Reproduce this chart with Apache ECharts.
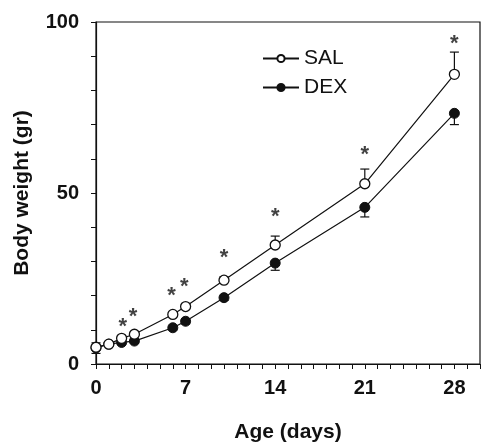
<!DOCTYPE html>
<html>
<head>
<meta charset="utf-8">
<script src="https://cdn.jsdelivr.net/npm/echarts@6/dist/echarts.min.js"></script>
<style>html,body{margin:0;padding:0;background:#fff}#c{width:483px;height:448px}</style>
</head>
<body>
<div id="c"></div>
<script>
// Age (days)
const days = [0, 1, 2, 3, 6, 7, 10, 14, 21, 28];
// Mean body weight (gr)
const salMean = [4.9, 5.8, 7.5, 8.7, 14.5, 16.8, 24.5, 34.8, 52.7, 84.7];
const dexMean = [4.7, 5.8, 6.3, 6.7, 10.6, 12.5, 19.4, 29.5, 45.8, 73.3];
// Error (SEM), SAL drawn upward, DEX downward
const salErr = [1.3, 0.5, 0.6, 0.6, 0.7, 0.8, 1.0, 2.6, 4.3, 6.5];
const dexErr = [1.6, 0.5, 0.5, 0.6, 0.6, 0.8, 0.8, 2.1, 2.8, 3.3];
// Significance asterisks: [day, height]
const starDays = [2.1, 2.9, 5.9, 6.9, 10, 14, 21, 28];
const starHeights = [12.3, 15.1, 21.4, 24.0, 32.4, 44.6, 62.6, 95.0];
// Tick labels
const xLabelDays = [0, 7, 14, 21, 28];
const yLabelValues = [0, 50, 100];

const FONT = 'Liberation Sans, Arial, Helvetica, sans-serif';
const INK = '#111';

function errRender(dir) {
  return function (params, api) {
    const x = api.value(0), y = api.value(1), e = api.value(2);
    const p0 = api.coord([x, y]);
    const p1 = api.coord([x, y + dir * e]);
    const hw = 4.5;
    return {
      type: 'group',
      children: [
        { type: 'line', shape: { x1: p0[0], y1: p0[1], x2: p1[0], y2: p1[1] }, style: { stroke: INK, lineWidth: 1.2 } },
        { type: 'line', shape: { x1: p1[0] - hw, y1: p1[1], x2: p1[0] + hw, y2: p1[1] }, style: { stroke: INK, lineWidth: 1.2 } }
      ]
    };
  };
}

const chart = echarts.init(document.getElementById('c'));
chart.setOption({
  animation: false,
  backgroundColor: '#fff',
  grid: { left: 96, top: 22, right: 1, bottom: 79, show: true, borderColor: INK, borderWidth: 1.2, backgroundColor: 'transparent' },
  legend: {
    data: ['SAL', 'DEX'],
    orient: 'vertical',
    left: 257, top: 43,
    itemWidth: 36, itemHeight: 9, itemGap: 8,
    textStyle: { fontFamily: FONT, fontSize: 21, color: INK }
  },
  xAxis: {
    type: 'value', min: 0, max: 30, interval: 1,
    name: 'Age (days)', nameLocation: 'middle', nameGap: 58,
    nameTextStyle: { fontFamily: FONT, fontSize: 21, fontWeight: 'bold', color: INK },
    axisLine: { show: true, lineStyle: { color: INK, width: 1.2 } },
    axisTick: { show: true, inside: false, length: 5, lineStyle: { color: INK } },
    splitLine: { show: false },
    axisLabel: {
      margin: 14, fontFamily: FONT, fontSize: 20, fontWeight: 'bold', color: INK,
      formatter: v => (xLabelDays.indexOf(v) >= 0 ? String(v) : '')
    }
  },
  yAxis: {
    type: 'value', min: 0, max: 100, interval: 10,
    name: 'Body weight (gr)', nameLocation: 'middle', nameGap: 63,
    nameTextStyle: { fontFamily: FONT, fontSize: 21, fontWeight: 'bold', color: INK },
    axisLine: { show: true, lineStyle: { color: INK, width: 1.2 } },
    axisTick: { show: true, inside: false, length: 5, lineStyle: { color: INK } },
    splitLine: { show: false },
    axisLabel: {
      margin: 17, fontFamily: FONT, fontSize: 20, fontWeight: 'bold', color: INK,
      formatter: v => (yLabelValues.indexOf(v) >= 0 ? String(v) : '')
    }
  },
  series: [
    {
      type: 'custom', name: 'salErr', z: 1, renderItem: errRender(1),
      data: days.map((d, i) => [d, salMean[i], salErr[i]])
    },
    {
      type: 'custom', name: 'dexErr', z: 1, renderItem: errRender(-1),
      data: days.map((d, i) => [d, dexMean[i], dexErr[i]])
    },
    {
      name: 'DEX', type: 'line', z: 3,
      data: days.map((d, i) => [d, dexMean[i]]),
      symbol: 'circle', symbolSize: 10, showSymbol: true,
      lineStyle: { color: INK, width: 1.2 },
      itemStyle: { color: INK, borderColor: INK, borderWidth: 1 }
    },
    {
      name: 'SAL', type: 'line', z: 4,
      data: days.map((d, i) => [d, salMean[i]]),
      symbol: 'circle', symbolSize: 10, showSymbol: true,
      lineStyle: { color: INK, width: 1.2 },
      itemStyle: { color: '#fff', borderColor: INK, borderWidth: 1.3 }
    },
    {
      type: 'scatter', name: 'stars', z: 5, symbolSize: 0, silent: true,
      data: starDays.map((d, i) => [d, starHeights[i]]),
      label: { show: true, position: 'inside', formatter: '*', fontFamily: FONT, fontSize: 22, fontWeight: 'bold', color: INK, offset: [0, 5] }
    }
  ]
});
</script>
</body>
</html>
